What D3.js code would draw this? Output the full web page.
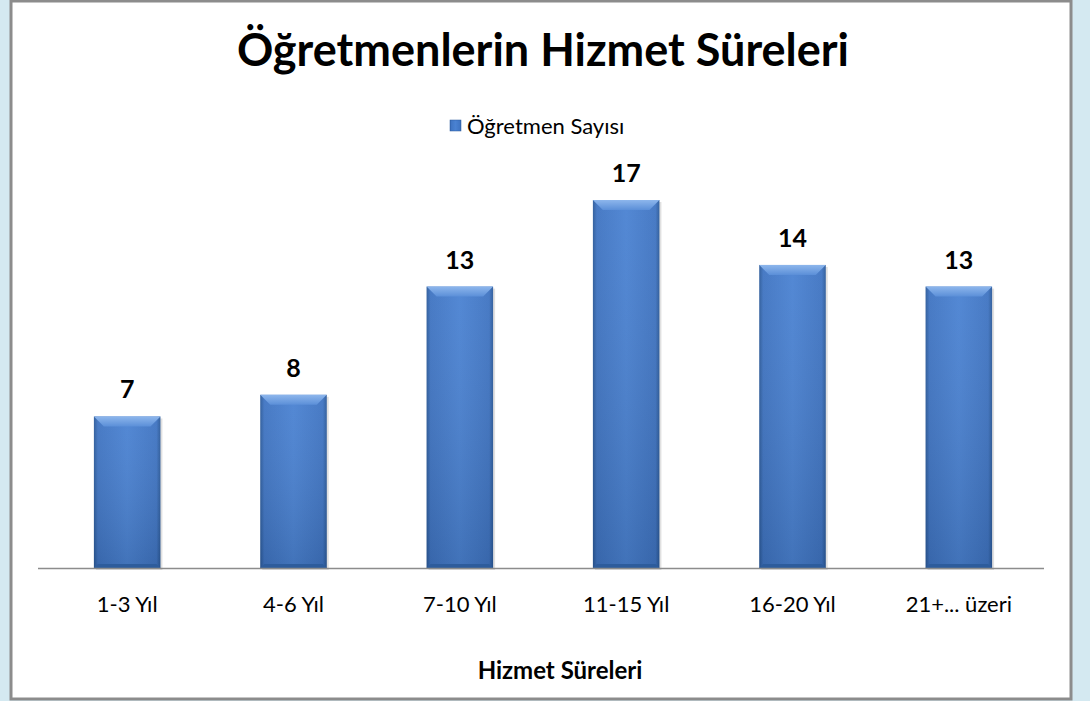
<!DOCTYPE html>
<html>
<head>
<meta charset="utf-8">
<script src="https://cdn.jsdelivr.net/npm/d3@7"></script>
<style>
  body { margin: 0; background: #d4e9f1; }
  svg { display: block; }
  text { font-family: Lato, "Open Sans", sans-serif; }
</style>
</head>
<body>
<svg id="chart" width="1090" height="701"></svg>
<script>
const categories = ["1-3 Yıl", "4-6 Yıl", "7-10 Yıl", "11-15 Yıl", "16-20 Yıl", "21+... üzeri"];
const values = [7, 8, 13, 17, 14, 13];
const seriesName = "Öğretmen Sayısı";
const title = "Öğretmenlerin Hizmet Süreleri";
const xTitle = "Hizmet Süreleri";

const svg = d3.select("#chart");

// chart frame
svg.append("rect")
  .attr("x", 11).attr("y", 1)
  .attr("width", 1060).attr("height", 698)
  .attr("fill", "#fff")
  .attr("stroke", "#8c8c8c")
  .attr("stroke-width", 3);

const defs = svg.append("defs");
const grad = defs.append("linearGradient")
  .attr("id", "barGrad")
  .attr("x1", "0").attr("x2", "1").attr("y1", "0").attr("y2", "0");
grad.append("stop").attr("offset", "0%").attr("stop-color", "#2b5a9a");
grad.append("stop").attr("offset", "6%").attr("stop-color", "#3f74c2");
grad.append("stop").attr("offset", "50%").attr("stop-color", "#4a82d2");
grad.append("stop").attr("offset", "94%").attr("stop-color", "#3f74c2");
grad.append("stop").attr("offset", "100%").attr("stop-color", "#2b5a9a");

const vgrad = defs.append("linearGradient")
  .attr("id", "barShade")
  .attr("x1", "0").attr("x2", "0").attr("y1", "0").attr("y2", "1");
vgrad.append("stop").attr("offset", "0%").attr("stop-color", "#fff").attr("stop-opacity", 0.05);
vgrad.append("stop").attr("offset", "100%").attr("stop-color", "#000").attr("stop-opacity", 0.12);

const bevGrad = defs.append("linearGradient")
  .attr("id", "bevGrad")
  .attr("x1", "0").attr("x2", "0").attr("y1", "0").attr("y2", "1");
bevGrad.append("stop").attr("offset", "0%").attr("stop-color", "#8db6ec");
bevGrad.append("stop").attr("offset", "100%").attr("stop-color", "#5b8fd8");

const x = d3.scaleBand()
  .domain(categories)
  .range([44, 1042])
  .paddingInner(0.6)
  .paddingOuter(0.3);

const y = d3.scaleLinear()
  .domain([0, 17])
  .range([568, 200]);

// title
svg.append("text")
  .attr("x", 543).attr("y", 66)
  .attr("text-anchor", "middle")
  .attr("font-size", 45)
  .attr("font-weight", "bold")
  .attr("fill", "#000")
  .text(title);

// legend
svg.append("rect")
  .attr("x", 450).attr("y", 120)
  .attr("width", 11).attr("height", 11)
  .attr("fill", "url(#barGrad)")
  .attr("stroke", "#2b5a9a").attr("stroke-width", 0.5);
svg.append("text")
  .attr("x", 467).attr("y", 134)
  .attr("font-size", 22)
  .attr("fill", "#000")
  .text(seriesName);

const bw = x.bandwidth();
const bars = svg.append("g").selectAll("g")
  .data(values)
  .join("g");

// soft shadow
bars.append("rect")
  .attr("x", (d, i) => x(categories[i]) + 2)
  .attr("y", d => y(d) + 2)
  .attr("width", bw)
  .attr("height", d => y(0) - y(d))
  .attr("fill", "#000")
  .attr("opacity", 0.12);

bars.append("rect")
  .attr("x", (d, i) => x(categories[i]))
  .attr("y", d => y(d))
  .attr("width", bw)
  .attr("height", d => y(0) - y(d))
  .attr("fill", "url(#barGrad)");

bars.append("rect")
  .attr("x", (d, i) => x(categories[i]))
  .attr("y", d => y(d))
  .attr("width", bw)
  .attr("height", d => y(0) - y(d))
  .attr("fill", "url(#barShade)");

// top bevel
const bev = 10;
bars.append("path")
  .attr("d", (d, i) => {
    const x0 = x(categories[i]), x1 = x0 + bw, t = y(d);
    return `M${x0},${t}L${x1},${t}L${x1 - bev},${t + bev}L${x0 + bev},${t + bev}Z`;
  })
  .attr("fill", "url(#bevGrad)");
// bottom bevel
bars.append("path")
  .attr("d", (d, i) => {
    const x0 = x(categories[i]), x1 = x0 + bw, b = y(0);
    return `M${x0},${b}L${x1},${b}L${x1 - 4},${b - 4}L${x0 + 4},${b - 4}Z`;
  })
  .attr("fill", "#2d5c9c");

bars.append("text")
  .attr("x", (d, i) => x(categories[i]) + bw / 2)
  .attr("y", d => y(d) - 18)
  .attr("text-anchor", "middle")
  .attr("font-size", 25)
  .attr("font-weight", "bold")
  .attr("fill", "#000")
  .text(d => d);

// x axis
const xAxis = d3.axisBottom(x).tickSize(0).tickPadding(28);
const gx = svg.append("g")
  .attr("transform", `translate(0,${y(0)})`)
  .call(xAxis);
gx.select(".domain").attr("d", `M38,0.5H1044`).attr("stroke", "#8c8c8c").attr("stroke-width", 1.5);
gx.selectAll("text")
  .attr("font-size", 22)
  .attr("fill", "#000")
  .attr("font-family", "Lato, sans-serif");

svg.append("text")
  .attr("x", 560).attr("y", 679)
  .attr("text-anchor", "middle")
  .attr("font-size", 24)
  .attr("font-weight", "bold")
  .attr("fill", "#000")
  .text(xTitle);
</script>
</body>
</html>
